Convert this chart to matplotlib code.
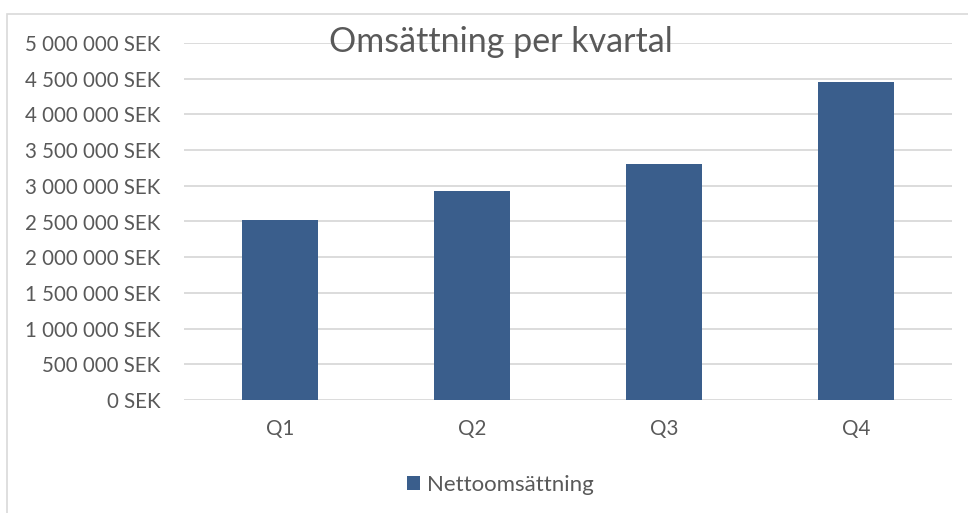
import matplotlib
matplotlib.use("Agg")
import matplotlib.pyplot as plt
from matplotlib.patches import Rectangle
from matplotlib.ticker import FuncFormatter, MultipleLocator

# Data
quarters = ["Q1", "Q2", "Q3", "Q4"]
revenue = [2520000, 2925000, 3305000, 4450000]
series_name = "Nettoomsättning"
title = "Omsättning per kvartal"

plt.rcParams["font.family"] = ["Lato", "DejaVu Sans"]
text_col = "#595959"
grid_col = "#D9D9D9"
bar_col = "#3A5E8C"

W, H = 968, 513
fig = plt.figure(figsize=(W / 100, H / 100), dpi=100)

# chart area border (top and left visible)
fig.patches.append(Rectangle((7 / W, -0.05), 1.1, (H - 13.5) / H + 0.05,
                             transform=fig.transFigure, fill=False,
                             edgecolor=grid_col, linewidth=1.2))

ax = fig.add_axes([184 / W, (H - 400) / H, (952 - 184) / W, (400 - 43) / H])
ax.bar(quarters, revenue, width=0.396, color=bar_col, zorder=3,
       label=series_name)
ax.set_xlim(-0.5, 3.5)
ax.set_ylim(0, 5000000)
ax.yaxis.set_major_locator(MultipleLocator(500000))
ax.yaxis.set_major_formatter(FuncFormatter(
    lambda v, p: "{:,.0f} SEK".format(v).replace(",", " ")))
ax.grid(axis="y", color=grid_col, linewidth=1.3, zorder=0)
ax.set_axisbelow(True)
for s in ax.spines.values():
    s.set_visible(False)
ax.tick_params(axis="y", length=0, pad=17, labelsize=14.8, labelcolor=text_col)
ax.tick_params(axis="x", length=0, pad=14, labelsize=14.8, labelcolor=text_col)

fig.text(501 / W, (H - 42) / H, title, ha="center", va="center",
         fontsize=24.5, color=text_col)

leg = fig.legend(loc="center", bbox_to_anchor=(500 / W, (H - 485) / H),
                 frameon=False, fontsize=16, handlelength=0.6,
                 handleheight=0.6, handletextpad=0.3)
for t in leg.get_texts():
    t.set_color(text_col)

fig.savefig("out.png", dpi=100)
